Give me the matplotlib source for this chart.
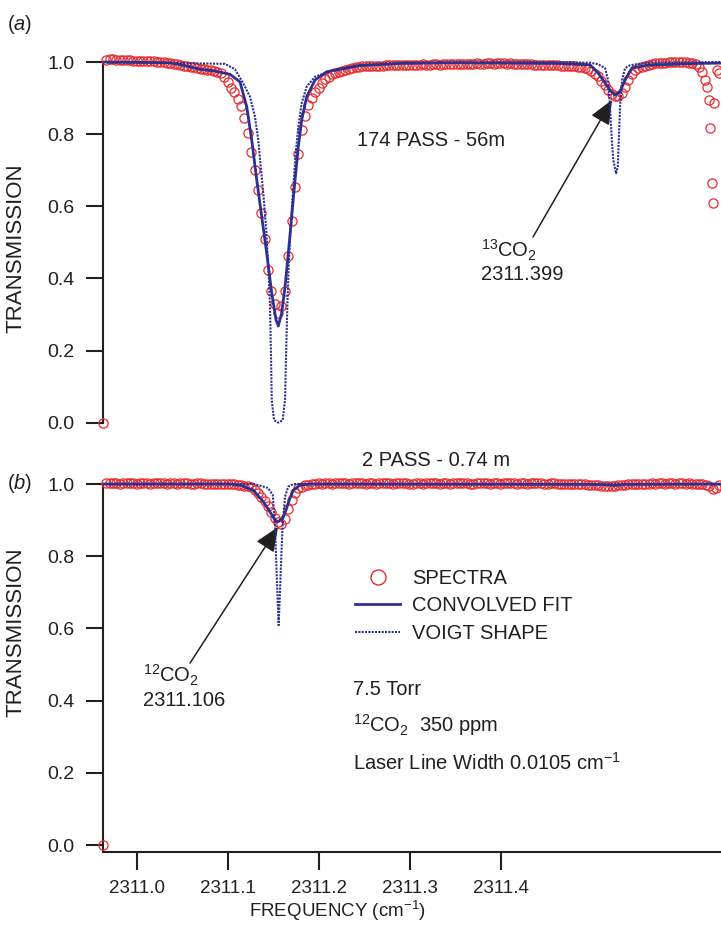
import numpy as np
import matplotlib
matplotlib.use('Agg')
import matplotlib.pyplot as plt
from matplotlib import font_manager as fm
from matplotlib.lines import Line2D

plt.rcParams['font.family'] = ['Liberation Sans', 'DejaVu Sans']
plt.rcParams['mathtext.fontset'] = 'custom'
plt.rcParams['mathtext.rm'] = 'Liberation Sans'
plt.rcParams['mathtext.it'] = 'Liberation Sans:italic'
plt.rcParams['mathtext.bf'] = 'Liberation Sans:bold'

try:
    fm.findfont(fm.FontProperties(family='Liberation Sans Narrow'), fallback_to_default=False)
    NARROW = 'Liberation Sans Narrow'
    NARROW_SIZE = 14.5
except Exception:
    NARROW = 'Liberation Sans'
    NARROW_SIZE = 13.5

# ---------------- data ----------------
# uniformly sampled spectra (start frequency and sampling step of the scan)
spec_f0 = 2310.963
spec_df = 0.0037

spectra_a = [
    0.000,
    1.006, 1.007, 1.007, 1.006, 1.006, 1.005, 1.005, 1.005, 1.004, 1.004, 1.004, 1.003, 1.003, 1.002, 1.002, 1.001,
    1.000, 0.999, 0.998, 0.997, 0.995, 0.994, 0.992, 0.990, 0.989, 0.987, 0.985, 0.983, 0.981, 0.980, 0.979, 0.978,
    0.975, 0.973, 0.970,
    0.958, 0.944, 0.928, 0.916, 0.898, 0.877, 0.844, 0.803, 0.750, 0.700, 0.645, 0.580, 0.510, 0.424, 0.365, 0.328,
    0.303, 0.323, 0.366, 0.463, 0.560, 0.654, 0.745, 0.811, 0.850, 0.881, 0.900, 0.916, 0.928, 0.941, 0.952, 0.959,
    0.966, 0.969, 0.972, 0.975, 0.978, 0.981, 0.983, 0.985, 0.987,
    0.988, 0.988, 0.989, 0.989, 0.990, 0.990, 0.990, 0.991, 0.991, 0.991, 0.992, 0.992, 0.992, 0.992,
    0.993, 0.993, 0.992, 0.993, 0.994, 0.993, 0.993, 0.994, 0.994, 0.993, 0.994, 0.994, 0.995, 0.994, 0.994, 0.995,
    0.995, 0.994, 0.995, 0.995, 0.996, 0.995, 0.995, 0.996, 0.996, 0.995, 0.996, 0.996, 0.996, 0.995, 0.996, 0.995,
    0.995, 0.994, 0.995, 0.994, 0.994, 0.993, 0.993, 0.993,
    0.992, 0.992, 0.991, 0.991, 0.991, 0.990, 0.990, 0.990, 0.989,
    0.989, 0.987, 0.985, 0.983, 0.981, 0.976, 0.968, 0.960, 0.948, 0.936, 0.922, 0.912, 0.906, 0.905, 0.914, 0.930,
    0.950, 0.966, 0.978, 0.984, 0.987, 0.990, 0.993, 0.995,
    0.996, 0.997, 0.998, 0.998, 0.999, 0.999, 1.000, 1.000, 1.000, 0.999, 0.998, 0.997, 0.994,
]
# extra points at the right edge of panel (a)
spectra_a_edge_f = [2311.6179, 2311.6212, 2311.6245, 2311.6267, 2311.6289, 2311.6300, 2311.6319, 2311.6336,
                    2311.6344, 2311.6374, 2311.6399]
spectra_a_edge_t = [0.985, 0.972, 0.950, 0.930, 0.895, 0.816, 0.664, 0.608, 0.885, 0.978, 0.969]

spectra_b = [
    0.000,
    1.003, 1.002, 1.003, 1.002, 1.001, 1.002, 1.003, 1.002, 1.002, 1.001, 1.002, 1.003, 1.002, 1.001, 1.002, 1.002,
    1.003, 1.002, 1.001, 1.002, 1.002, 1.001, 1.002, 1.003, 1.002, 1.001, 1.001, 1.002, 1.002, 1.001, 1.001, 1.001,
    1.000, 1.001, 1.000, 1.000, 1.000,
    1.000, 0.999, 0.998, 0.997, 0.995, 0.994, 0.991, 0.983, 0.975, 0.964, 0.952, 0.940, 0.922, 0.906, 0.894, 0.890,
    0.904, 0.932, 0.956, 0.976, 0.988, 0.993, 0.996, 0.998,
    1.000, 1.001, 1.002, 1.001, 1.002, 1.002, 1.001, 1.002, 1.003, 1.002,
    1.002, 1.001, 1.002, 1.002, 1.003, 1.002, 1.001, 1.002, 1.002, 1.001,
    1.002, 1.003, 1.002, 1.002, 1.001, 1.002, 1.002, 1.003, 1.002, 1.001,
    1.001, 1.002, 1.002, 1.001, 1.002, 1.003, 1.002, 1.002, 1.001, 1.002,
    1.002, 1.001, 1.002, 1.002, 1.003, 1.002, 1.002, 1.001, 1.001, 1.002,
    1.002, 1.003, 1.002, 1.001, 1.002, 1.002, 1.001, 1.002, 1.003, 1.002,
    1.002, 1.001, 1.002, 1.002, 1.001, 1.002, 1.002, 1.003, 1.002, 1.001,
    1.001, 1.002, 1.002, 1.001, 1.001, 1.001, 1.000, 1.001, 1.000, 1.000,
    0.999, 0.999, 0.998, 0.998, 0.997, 0.996, 0.995, 0.995, 0.994, 0.995,
    0.995, 0.996, 0.997, 0.998, 0.999, 0.999, 1.000, 1.001, 1.001, 1.000,
    1.001, 1.002, 1.001, 1.002, 1.002, 1.001, 1.002, 1.002, 1.001, 1.002,
    1.002, 1.001, 1.002, 1.001, 1.000, 1.000, 0.999, 0.998,
    0.995, 0.986, 0.990, 0.996,
]

fit_a_f = [2310.963, 2311.0366, 2311.0531, 2311.0696, 2311.0860, 2311.1025, 2311.1135, 2311.1209, 2311.1264,
           2311.1319, 2311.1374, 2311.1429, 2311.1484, 2311.1531, 2311.1556, 2311.1593, 2311.1630, 2311.1666,
           2311.1703, 2311.1740, 2311.1776, 2311.1813, 2311.1868, 2311.1959, 2311.2088, 2311.2454, 2311.2893,
           2311.3443, 2311.4652, 2311.4981, 2311.5069, 2311.5124, 2311.5201, 2311.5256, 2311.5311, 2311.5366,
           2311.5440, 2311.5604, 2311.6113, 2311.6421]
fit_a_t = [1.000, 0.998, 0.990, 0.980, 0.975, 0.966, 0.945, 0.876, 0.784,
           0.673, 0.571, 0.470, 0.359, 0.285, 0.268, 0.304, 0.377, 0.470,
           0.571, 0.673, 0.765, 0.839, 0.904, 0.950, 0.973, 0.990, 0.996,
           0.998, 0.996, 0.992, 0.970, 0.950, 0.922, 0.908, 0.918, 0.950,
           0.983, 0.991, 0.996, 0.997]

voigt_a_f = [2310.963, 2311.0970, 2311.1080, 2311.1171, 2311.1245, 2311.1300, 2311.1336, 2311.1363, 2311.1391,
             2311.1421, 2311.1446, 2311.1465, 2311.1476, 2311.1484, 2311.1509, 2311.1556, 2311.1604, 2311.1630,
             2311.1641, 2311.1655, 2311.1670, 2311.1692, 2311.1721, 2311.1747, 2311.1776, 2311.1813, 2311.1868,
             2311.1959, 2311.2160, 2311.2454, 2311.2893, 2311.4652, 2311.4981, 2311.5069, 2311.5146, 2311.5179,
             2311.5201, 2311.5220, 2311.5237, 2311.5267, 2311.5286, 2311.5297, 2311.5311, 2311.5333, 2311.5366,
             2311.5421, 2311.5604, 2311.6421]
voigt_a_t = [1.000, 0.995, 0.980, 0.941, 0.904, 0.848, 0.784, 0.710, 0.636,
             0.543, 0.432, 0.322, 0.183, 0.063, 0.007, 0.000, 0.007, 0.063,
             0.183, 0.322, 0.432, 0.543, 0.654, 0.747, 0.821, 0.886, 0.932,
             0.959, 0.978, 0.992, 0.998, 1.000, 0.998, 0.994, 0.983, 0.950,
             0.876, 0.784, 0.728, 0.691, 0.710, 0.784, 0.876, 0.950, 0.983,
             0.991, 0.998, 1.000]

fit_b_f = [2310.963, 2311.1025, 2311.1135, 2311.1281, 2311.1391, 2311.1465, 2311.1520, 2311.1556, 2311.1604,
           2311.1641, 2311.1677, 2311.1721, 2311.1795, 2311.1904, 2311.4981, 2311.5146, 2311.5256, 2311.5366,
           2311.6421]
fit_b_t = [1.000, 1.000, 0.997, 0.983, 0.951, 0.923, 0.900, 0.896, 0.905,
           0.928, 0.956, 0.983, 0.997, 1.000, 0.999, 0.998, 0.996, 0.999,
           1.000]

voigt_b_f = [2310.963, 2311.1281, 2311.1333, 2311.1443, 2311.1495, 2311.1520, 2311.1531, 2311.1545, 2311.1560,
             2311.1575, 2311.1589, 2311.1604, 2311.1630, 2311.1666, 2311.1721, 2311.6421]
voigt_b_t = [1.000, 1.000, 0.997, 0.989, 0.970, 0.891, 0.799, 0.706, 0.609,
             0.706, 0.799, 0.891, 0.965, 0.993, 1.000, 1.000]

freq_ticks = [2311.0, 2311.1, 2311.2, 2311.3, 2311.4]
freq_tick_labels = ['2311.0', '2311.1', '2311.2', '2311.3', '2311.4']
trans_ticks = [0.0, 0.2, 0.4, 0.6, 0.8, 1.0]
trans_tick_labels = ['0.0', '0.2', '0.4', '0.6', '0.8', '1.0']

# ---------------- styling ----------------
RED = '#ec2a2f'
NAVY = '#2b3190'
TXT = '#231f20'
DOT = (0, (1.0, 0.6))

W, H = 721, 930
fig = plt.figure(figsize=(W / 100, H / 100), dpi=100)

XLIM = (2310.963, 2311.642)
axA = fig.add_axes([103 / W, 1 - 429.9 / H, 618 / W, 378.7 / H])
axB = fig.add_axes([103 / W, 1 - 852 / H, 618 / W, 378.8 / H])
axA.set_ylim(-0.02, 1.03)
axB.set_ylim(-0.019, 1.03)

fA = spec_f0 + spec_df * np.arange(len(spectra_a))
fB = spec_f0 + spec_df * np.arange(len(spectra_b))
fA = np.concatenate([fA, spectra_a_edge_f])
tA = np.concatenate([spectra_a, spectra_a_edge_t])

for ax, f, t, ff, ft, vf, vt in [(axA, fA, tA, fit_a_f, fit_a_t, voigt_a_f, voigt_a_t),
                                 (axB, fB, np.array(spectra_b), fit_b_f, fit_b_t, voigt_b_f, voigt_b_t)]:
    ax.plot(f, t, ls='none', marker='o', ms=6.6, mfc='none', mec=RED, mew=0.9, clip_on=False, zorder=3)
    ax.plot(ff, ft, color=NAVY, lw=2.0, zorder=4, solid_capstyle='butt')
    ax.plot(vf, vt, color=NAVY, lw=1.5, ls=DOT, zorder=5)
    ax.set_xlim(*XLIM)
    ax.set_yticks(trans_ticks)
    ax.set_yticklabels(trans_tick_labels)
    ax.tick_params(axis='y', direction='out', length=12, width=1.5, pad=8.5, labelsize=14,
                   colors=TXT)
    for s in ['top', 'right']:
        ax.spines[s].set_visible(False)
    ax.spines['left'].set_linewidth(1.5)
    ax.spines['left'].set_color(TXT)
    ax.patch.set_alpha(0)

axA.spines['bottom'].set_visible(False)
axA.spines['left'].set_bounds(0.0, 1.0)
axA.set_xticks([])

axB.spines['left'].set_bounds(-0.019, 1.0)
axB.spines['bottom'].set_linewidth(1.5)
axB.spines['bottom'].set_color(TXT)
axB.set_xticks(freq_ticks)
axB.set_xticklabels(freq_tick_labels, fontfamily=NARROW)
axB.tick_params(axis='x', direction='out', length=13, width=1.5, pad=7.5, labelsize=NARROW_SIZE, colors=TXT)

for ax, yc in [(axA, 0.48), (axB, 0.58)]:
    ax.set_ylabel('TRANSMISSION', fontsize=16, color=TXT)
    ax.yaxis.set_label_coords(-0.123, yc)


def ftext(px, py, s, **kw):
    kw.setdefault('ha', 'left')
    kw.setdefault('va', 'center')
    kw.setdefault('fontsize', 14.5)
    kw.setdefault('color', TXT)
    return fig.text(px / W, 1 - py / H, s, **kw)


ftext(7, 25, '($\\mathit{a}$)', fontsize=14.5)
ftext(7, 483, '($\\mathit{b}$)', fontsize=14.5)
ftext(357, 141, '174 PASS - 56m')
ftext(481, 250, '$^{13}$CO$_2$')
ftext(481, 275, '2311.399')
ftext(362, 460, '2 PASS - 0.74 m')
ftext(143, 675, '$^{12}$CO$_2$')
ftext(143, 700, '2311.106')
ftext(353, 689, '7.5 Torr')
ftext(353, 725, '$^{12}$CO$_2$  350 ppm')
ftext(353, 763, 'Laser Line Width 0.0105 cm$^{-1}$')
ftext(337, 911, 'FREQUENCY (cm$^{-1}$)', ha='center', fontfamily=NARROW, fontsize=NARROW_SIZE)

arrow_kw = dict(arrowstyle='-|>,head_length=0.75,head_width=0.32', color=TXT, lw=1.1,
                shrinkA=0, shrinkB=0, mutation_scale=20)
axA.annotate('', xy=(2311.5223, 0.895), xytext=(2311.4355, 0.515), arrowprops=arrow_kw)
axB.annotate('', xy=(2311.1553, 0.881), xytext=(2311.0586, 0.504), arrowprops=arrow_kw)

handles = [Line2D([], [], ls='none', marker='o', ms=10.8, mfc='none', mec=RED, mew=1.0),
           Line2D([], [], color=NAVY, lw=2.0),
           Line2D([], [], color=NAVY, lw=1.5, ls=DOT)]
leg = fig.legend(handles, ['SPECTRA', 'CONVOLVED FIT', 'VOIGT SHAPE'], loc='upper left',
                 bbox_to_anchor=(355 / W, 1 - 569 / H), bbox_transform=fig.transFigure,
                 frameon=False, fontsize=14.5, handlelength=2.25, handletextpad=0.6,
                 labelspacing=0.42, borderpad=0, borderaxespad=0, numpoints=1)
for txt in leg.get_texts():
    txt.set_color(TXT)

fig.savefig('out.png', dpi=100)
